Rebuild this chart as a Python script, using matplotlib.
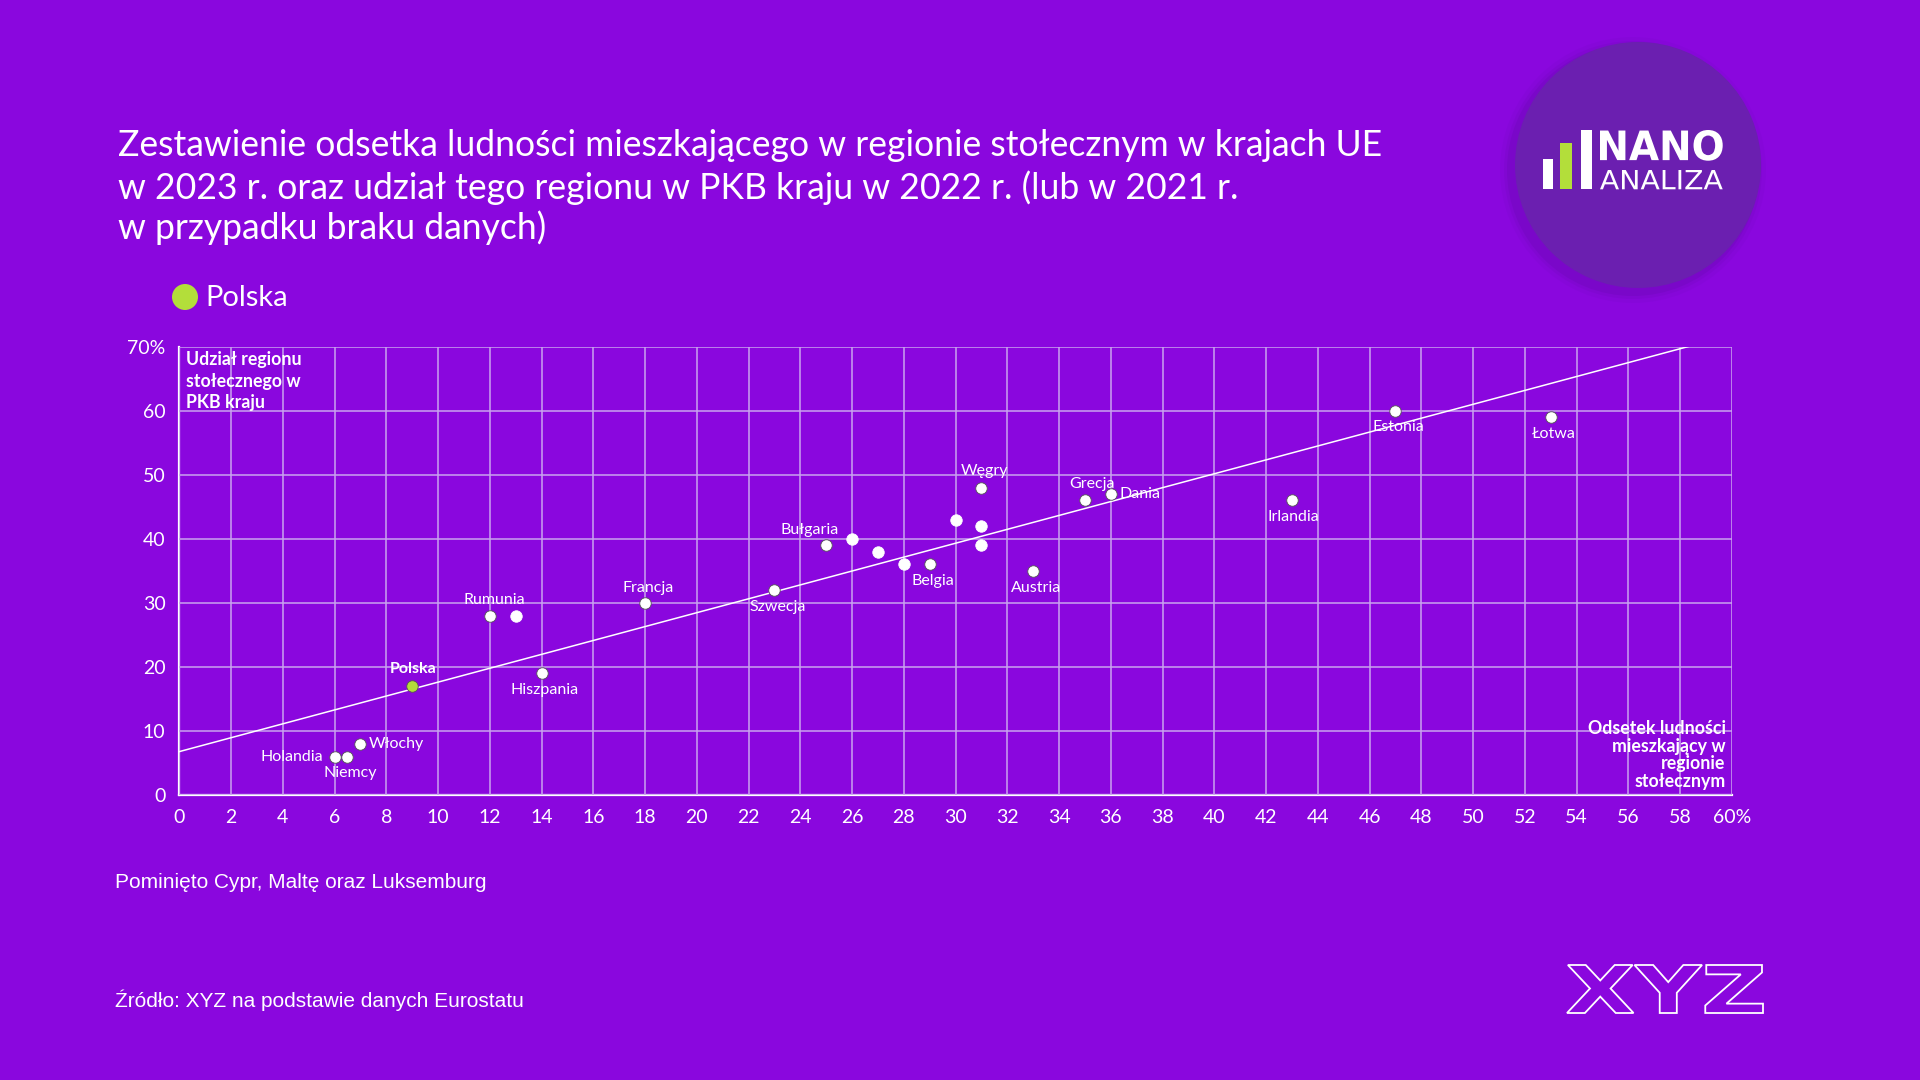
import numpy as np
import matplotlib
matplotlib.use("Agg")
import matplotlib.pyplot as plt
from matplotlib.patches import Circle, Rectangle, PathPatch
from matplotlib.textpath import TextPath
from matplotlib.font_manager import FontProperties
from matplotlib.transforms import Affine2D

# ---------------- data ----------------
countries = ["Holandia", "Niemcy", "Włochy", "Polska", "Hiszpania", "Rumunia", "",
             "Francja", "Szwecja", "Bułgaria", "", "", "", "Belgia", "", "Węgry",
             "", "", "Austria", "Grecja", "Dania", "Irlandia", "Estonia", "Łotwa"]
pop_share = [6, 6.5, 7, 9, 14, 12, 13, 18, 23, 25, 26, 27, 28, 29, 30, 31,
             31, 31, 33, 35, 36, 43, 47, 53]
gdp_share = [6, 6, 8, 17, 19, 28, 28, 30, 32, 39, 40, 38, 36, 36, 43, 48,
             42, 39, 35, 46, 47, 46, 60, 59]
# label placement: (dx, dy in points, ha, va)
label_pos = {
    "Holandia": (-8, 0, "right", "center"),
    "Niemcy": (2, -12, "center", "center"),
    "Włochy": (6, 0, "left", "center"),
    "Polska": (1, 12, "center", "center"),
    "Hiszpania": (2, -12, "center", "center"),
    "Rumunia": (3, 11, "center", "center"),
    "Francja": (2, 11, "center", "center"),
    "Szwecja": (2, -12, "center", "center"),
    "Bułgaria": (-12, 11, "center", "center"),
    "Belgia": (2, -12, "center", "center"),
    "Węgry": (2, 12, "center", "center"),
    "Austria": (2, -12, "center", "center"),
    "Grecja": (5, 12, "center", "center"),
    "Dania": (6, 0, "left", "center"),
    "Irlandia": (1, -12, "center", "center"),
    "Estonia": (2, -12, "center", "center"),
    "Łotwa": (2, -12, "center", "center"),
}
x_ticks = list(range(0, 61, 2))
y_ticks = list(range(0, 71, 10))
x_ticklabels = [str(v) for v in x_ticks[:-1]] + ["60%"]
y_ticklabels = [str(v) for v in y_ticks[:-1]] + ["70%"]

title_lines = [
    "Zestawienie odsetka ludności mieszkającego w regionie stołecznym w krajach UE",
    "w 2023 r. oraz udział tego regionu w PKB kraju w 2022 r. (lub w 2021 r.",
    "w przypadku braku danych)",
]

BG = "#8a07de"
GREEN = "#b3de3a"
FONT = "Lato"

plt.rcParams["font.family"] = [FONT, "DejaVu Sans"]

fig = plt.figure(figsize=(19.2, 10.8), dpi=100)
fig.patch.set_facecolor(BG)

W, H = 1920, 1080
def fx(px): return px / W
def fy(py): return 1 - py / H

ax = fig.add_axes([fx(179.3), fy(795), fx(1731.8) - fx(179.3), fy(346.7) - fy(795)])
ax.set_facecolor(BG)
ax.set_xlim(0, 60)
ax.set_ylim(0, 70)
ax.set_xticks(x_ticks)
ax.set_yticks(y_ticks)
ax.set_xticklabels(x_ticklabels)
ax.set_yticklabels(y_ticklabels)
ax.tick_params(length=0, colors="white", labelsize=14, pad=10)
ax.tick_params(axis="y", pad=10)
ax.grid(True, color="#c9a3ee", linewidth=1.1, zorder=0)
for s in ["top", "right"]:
    ax.spines[s].set_visible(False)
for s in ["left", "bottom"]:
    ax.spines[s].set_color("white")
    ax.spines[s].set_linewidth(1.6)
    ax.spines[s].set_zorder(1)

# trend line (OLS fit)
xs = np.array(pop_share, dtype=float)
ys = np.array(gdp_share, dtype=float)
slope, icpt = np.polyfit(xs, ys, 1)
xl = np.array([0, 60.0])
ax.plot(xl, icpt + slope * xl, color="white", linewidth=1.1, zorder=2, clip_on=True)

for name, x, y in zip(countries, pop_share, gdp_share):
    if name == "Polska":
        fc, ec = GREEN, "#555555"
    elif name:
        fc, ec = "white", "#555555"
    else:
        fc, ec = "white", "white"
    ax.scatter([x], [y], s=68, facecolor=fc, edgecolor=ec, linewidth=0.6, zorder=4)
    if name:
        dx, dy, ha, va = label_pos[name]
        ax.annotate(name, (x, y), xytext=(dx, dy), textcoords="offset points",
                    ha=ha, va=va, color="white", fontsize=11.5,
                    fontweight="bold" if name == "Polska" else "normal", zorder=5)

ax.text(0.004, 0.99, "Udział regionu\nstołecznego w\nPKB kraju", transform=ax.transAxes,
        ha="left", va="top", color="white", fontsize=12.8, fontweight="bold",
        linespacing=1.33, zorder=6)
ax.text(0.996, 0.012, "Odsetek ludności\nmieszkający w\nregionie\nstołecznym", transform=ax.transAxes,
        ha="right", va="bottom", color="white", fontsize=12.8, fontweight="bold",
        linespacing=1.03, zorder=6)

# title
for i, (line, base) in enumerate(zip(title_lines, [156, 199, 239])):
    fig.text(fx(118), fy(base), line, ha="left", va="baseline", color="white",
             fontsize=25.6)

# footnotes
fig.text(fx(115), fy(882), "Pominięto Cypr, Maltę oraz Luksemburg", ha="left", va="center",
         color="white", fontsize=15, family="Liberation Sans")
fig.text(fx(115), fy(1000), "Źródło: XYZ na podstawie danych Eurostatu", ha="left", va="center",
         color="white", fontsize=15, family="Liberation Sans")

# overlay axes in pixel coordinates
lax = fig.add_axes([0, 0, 1, 1], zorder=10)
lax.set_xlim(0, W)
lax.set_ylim(H, 0)
lax.axis("off")

# legend
lax.add_patch(Circle((185, 297), 13, facecolor=GREEN, edgecolor="none"))
lax.text(205, 298, "Polska", ha="left", va="center", color="white", fontsize=21)

# NANO ANALIZA logo
for r, a in [(133, 0.05), (129, 0.08), (126, 0.12)]:
    lax.add_patch(Circle((1633, 170), r, facecolor="#4a0a8a", alpha=a, edgecolor="none"))
lax.add_patch(Circle((1638, 165), 123, facecolor="#6b1fb0", edgecolor="none"))
lax.add_patch(Rectangle((1542.7, 159.3), 10.6, 30, facecolor="white", edgecolor="none"))
lax.add_patch(Rectangle((1560.3, 143.3), 11.4, 46, facecolor=GREEN, edgecolor="none"))
lax.add_patch(Rectangle((1580.7, 130), 11.6, 59.3, facecolor="white", edgecolor="none"))

def fit_text(txt, x0, y0, x1, y1, weight, face="white", edge="none", lw=0):
    fp = FontProperties(family="DejaVu Sans", weight=weight)
    tp = TextPath((0, 0), txt, size=100, prop=fp)
    bb = tp.get_extents()
    sx = (x1 - x0) / bb.width
    sy = (y1 - y0) / bb.height
    tr = Affine2D().translate(-bb.x0, -bb.y0).scale(sx, -sy).translate(x0, y1)
    p = tr.transform_path(tp)
    lax.add_patch(PathPatch(p, facecolor=face, edgecolor=edge, linewidth=lw))

fit_text("NANO", 1600, 130, 1722.7, 160.7, "heavy")
fit_text("ANALIZA", 1600, 170, 1722.7, 189.3, "normal")

# XYZ logo
fit_text("XYZ", 1567, 965, 1763, 1013, "bold", face=BG, edge="white", lw=1.3)

fig.savefig("out.png", dpi=100, facecolor=BG)
